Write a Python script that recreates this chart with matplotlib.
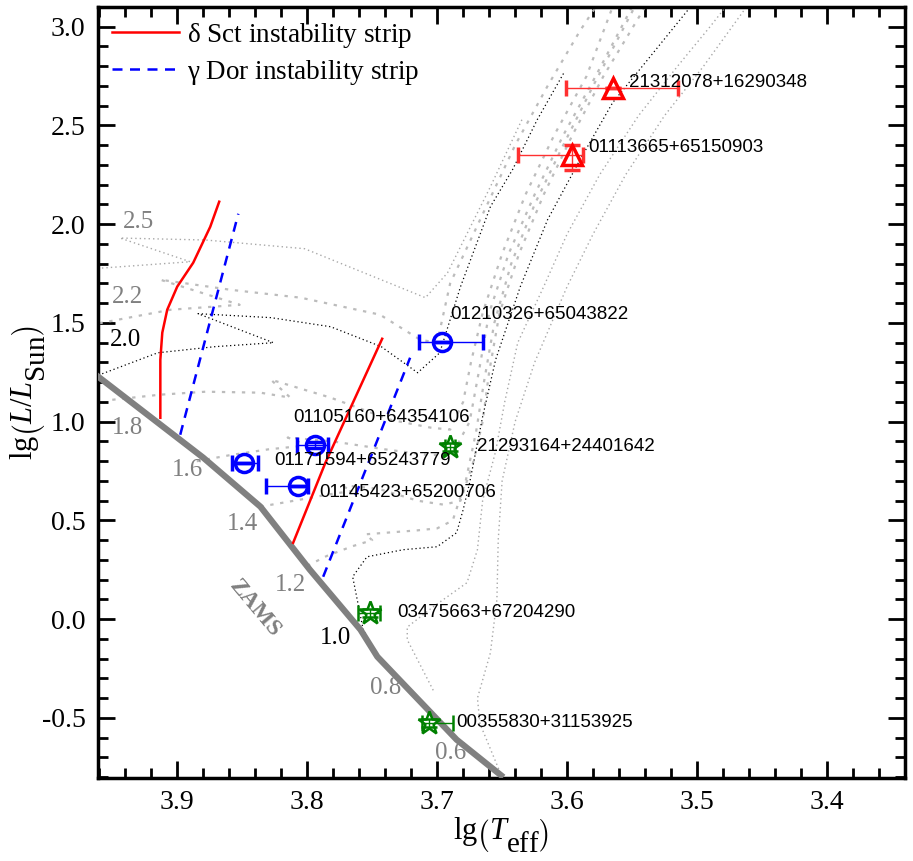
import matplotlib
matplotlib.use("Agg")
from matplotlib import pyplot as plt
from matplotlib.ticker import MultipleLocator
import matplotlib._mathtext as mathtext_internals

plt.rcParams['font.family'] = ['Liberation Serif', 'DejaVu Serif']
plt.rcParams['mathtext.fontset'] = 'custom'
plt.rcParams['mathtext.rm'] = 'Liberation Serif'
plt.rcParams['mathtext.it'] = 'Liberation Serif:italic'
plt.rcParams['axes.unicode_minus'] = False
# subscripts in the original axis titles are full size and sit low
mathtext_internals.SHRINK_FACTOR = 0.95
mathtext_internals.FontConstantsBase.sub1 = 0.9

# ZAMS
zams_x = [3.975, 3.880, 3.836, 3.798, 3.759, 3.746, 3.685, 3.649]
zams_y = [1.30, 0.818, 0.570, 0.251, -0.053, -0.19, -0.61, -0.80]

# instability strips
dsct_blue_x = [3.913, 3.913, 3.9115, 3.9077, 3.900, 3.8877, 3.8746, 3.8677]
dsct_blue_y = [1.020, 1.314, 1.451, 1.567, 1.684, 1.805, 1.987, 2.114]
dsct_red_x = [3.8108, 3.786, 3.7423]
dsct_red_y = [0.387, 0.792, 1.42]
gdor_blue_x = [3.8977, 3.853]
gdor_blue_y = [0.934, 2.053]
gdor_red_x = [3.7877, 3.7208]
gdor_red_y = [0.215, 1.324]

# evolutionary tracks (mass -> lgTeff, lgL)
trk25_x = [3.975, 3.890, 3.944, 3.878, 3.802, 3.709, 3.692, 3.659, 3.634]
trk25_y = [1.77, 1.81, 1.93, 1.92, 1.876, 1.628, 1.754, 2.19, 2.54]
trk22_x = [3.975, 3.905, 3.852, 3.913, 3.859, 3.805, 3.744, 3.713, 3.700,
           3.690, 3.665, 3.640, 3.615, 3.590, 3.578]
trk22_y = [1.48, 1.567, 1.592, 1.719, 1.668, 1.628, 1.542, 1.415, 1.40,
           1.70, 2.05, 2.40, 2.70, 2.98, 3.10]
trk20_x = [3.975, 3.915, 3.871, 3.826, 3.884, 3.828, 3.782, 3.743, 3.715,
           3.698, 3.682, 3.659, 3.642, 3.623, 3.602]
trk20_y = [1.20, 1.349, 1.380, 1.400, 1.547, 1.527, 1.481, 1.380, 1.248,
           1.349, 1.684, 2.089, 2.276, 2.529, 2.772]
trk18_x = [3.950, 3.913, 3.878, 3.836, 3.813, 3.828, 3.782, 3.736, 3.705,
           3.690, 3.680, 3.674, 3.665, 3.650, 3.632, 3.610, 3.585, 3.565]
trk18_y = [1.111, 1.137, 1.152, 1.147, 1.122, 1.213, 1.122, 1.010, 0.970,
           0.960, 1.10, 1.30, 1.55, 1.85, 2.15, 2.45, 2.75, 3.10]
trk16_x = [3.885, 3.860, 3.830, 3.800, 3.815, 3.780, 3.740, 3.705, 3.688,
           3.675, 3.668, 3.660, 3.645, 3.625, 3.603, 3.578, 3.550]
trk16_y = [0.80, 0.83, 0.86, 0.88, 0.92, 0.90, 0.86, 0.83, 0.84,
           1.00, 1.25, 1.55, 1.85, 2.15, 2.45, 2.75, 3.10]
trk14_x = [3.836, 3.810, 3.785, 3.765, 3.775, 3.745, 3.715, 3.695, 3.682,
           3.672, 3.665, 3.660, 3.652, 3.637, 3.618, 3.596, 3.572, 3.540]
trk14_y = [0.57, 0.60, 0.63, 0.65, 0.68, 0.66, 0.60, 0.58, 0.60,
           0.80, 1.00, 1.25, 1.55, 1.85, 2.15, 2.45, 2.75, 3.10]
trk12_x = [3.800, 3.785, 3.765, 3.750, 3.755, 3.735, 3.715, 3.700, 3.688,
           3.678, 3.670, 3.664, 3.656, 3.643, 3.625, 3.603, 3.580, 3.548]
trk12_y = [0.27, 0.32, 0.37, 0.40, 0.43, 0.44, 0.45, 0.46, 0.50,
           0.70, 0.95, 1.20, 1.50, 1.80, 2.10, 2.40, 2.70, 3.10]
trk10_x = [3.746, 3.757, 3.765, 3.754, 3.726, 3.700, 3.685, 3.680, 3.675,
           3.665, 3.655, 3.636, 3.615, 3.590, 3.565, 3.538, 3.505]
trk10_y = [-0.20, -0.05, 0.215, 0.316, 0.352, 0.367, 0.438, 0.554, 0.691,
           1.025, 1.314, 1.684, 2.023, 2.327, 2.615, 2.833, 3.101]
trk08_x = [3.703, 3.723, 3.723, 3.703, 3.677, 3.669, 3.665, 3.655, 3.648,
           3.638, 3.618, 3.600, 3.575, 3.545, 3.515, 3.490, 3.478]
trk08_y = [-0.36, -0.104, -0.04, 0.063, 0.185, 0.352, 0.60, 0.85, 1.10,
           1.40, 1.684, 1.95, 2.25, 2.55, 2.80, 3.00, 3.10]
trk06_x = [3.650, 3.667, 3.669, 3.659, 3.654, 3.653, 3.650, 3.640, 3.625,
           3.600, 3.580, 3.555, 3.525, 3.495, 3.462]
trk06_y = [-0.80, -0.53, -0.40, -0.17, 0.10, 0.40, 0.70, 1.00, 1.30,
           1.684, 1.95, 2.25, 2.55, 2.80, 3.10]

mass_labels = ['2.5', '2.2', '2.0', '1.8', '1.6', '1.4', '1.2', '1.0', '0.8', '0.6']
mass_lab_x = [3.930, 3.938, 3.940, 3.938, 3.892, 3.850, 3.813, 3.778, 3.740, 3.690]
mass_lab_y = [2.013, 1.633, 1.415, 0.970, 0.757, 0.484, 0.175, -0.094, -0.347, -0.676]
mass_lab_col = ['gray', 'gray', 'black', 'gray', 'gray', 'gray', 'gray', 'black', 'gray', 'gray']

# red giants (triangles)
rg_names = ['21312078+16290348', '01113665+65150903']
rg_x = [3.565, 3.596]
rg_y = [2.69, 2.35]
rg_xlo = [0.050, 0.008]
rg_xhi = [0.036, 0.042]
rg_ylo = [0.0, 0.074]
rg_yhi = [0.0, 0.05]

# blue circles
bc_names = ['01210326+65043822', '01105160+64354106', '01171594+65243779', '01145423+65200706']
bc_x = [3.696, 3.794, 3.849, 3.807]
bc_y = [1.405, 0.884, 0.792, 0.676]
bc_xlo = [0.031, 0.010, 0.011, 0.008]
bc_xhi = [0.018, 0.014, 0.009, 0.025]
bc_yerr = [0.0, 0.015, 0.0, 0.0]

# green stars
gs_names = ['21293164+24401642', '03475663+67204290', '00355830+31153925']
gs_x = [3.690, 3.752, 3.706]
gs_y = [0.873, 0.033, -0.524]
gs_xlo = [0.004, 0.008, 0.018]
gs_xhi = [0.004, 0.009, 0.006]
gs_yerr = [0.02, 0.02, 0.02]

# name label anchors
rg_lab_x = [3.552, 3.584]
rg_lab_y = [2.72, 2.387]
bc_lab_x = [3.690, 3.811, 3.825, 3.791]
bc_lab_y = [1.542, 1.020, 0.803, 0.641]
gs_lab_x = [3.669, 3.731, 3.685]
gs_lab_y = [0.873, 0.033, -0.524]

fig = plt.figure(figsize=(9.13, 8.61), dpi=100)
ax = fig.add_axes([0.1073, 0.0964, 0.8839, 0.8955])

fine = (0, (1, 2.2))
dash = (0, (1.5, 3))
ax.plot(trk25_x, trk25_y, color='#a8a8a8', lw=1.0, ls=fine)
ax.plot(trk22_x, trk22_y, color='#bcbcbc', lw=1.6, ls=dash)
ax.plot(trk20_x, trk20_y, color='black', lw=0.9, ls=fine)
ax.plot(trk18_x, trk18_y, color='#bcbcbc', lw=1.6, ls=dash)
ax.plot(trk16_x, trk16_y, color='#bcbcbc', lw=1.6, ls=dash)
ax.plot(trk14_x, trk14_y, color='#bcbcbc', lw=1.6, ls=dash)
ax.plot(trk12_x, trk12_y, color='#bcbcbc', lw=1.6, ls=dash)
ax.plot(trk10_x, trk10_y, color='black', lw=0.9, ls=fine)
ax.plot(trk08_x, trk08_y, color='#a8a8a8', lw=1.0, ls=fine)
ax.plot(trk06_x, trk06_y, color='#a8a8a8', lw=1.0, ls=fine)

ax.plot(zams_x, zams_y, color='#808080', lw=4.5, solid_capstyle='butt', zorder=3)
ax.text(3.840, 0.056, 'ZAMS', color='#808080', fontsize=17, fontweight='bold',
        rotation=-50, ha='center', va='center')

for lab, x, y, c in zip(mass_labels, mass_lab_x, mass_lab_y, mass_lab_col):
    ax.text(x, y, lab, color=c, fontsize=18, ha='center', va='center')

ax.plot(dsct_blue_x, dsct_blue_y, color='red', lw=1.8,
        label=r'$\mathregular{\delta}$ Sct instability strip', zorder=4)
ax.plot(dsct_red_x, dsct_red_y, color='red', lw=1.8, zorder=4)
ax.plot(gdor_blue_x, gdor_blue_y, color='blue', lw=1.8, ls=(0, (4, 3)),
        label=r'$\mathregular{\gamma}$ Dor instability strip', zorder=4)
ax.plot(gdor_red_x, gdor_red_y, color='blue', lw=1.8, ls=(0, (4, 3)), zorder=4)

ax.errorbar(rg_x, rg_y, xerr=[rg_xlo, rg_xhi], yerr=[rg_ylo, rg_yhi], fmt='^', ms=14,
            mfc='none', mec='red', mew=2.5, ecolor='#ff3030', elinewidth=1.0,
            capsize=6, capthick=1.0, zorder=5)
ax.errorbar(bc_x, bc_y, xerr=[bc_xlo, bc_xhi], yerr=bc_yerr, fmt='o', ms=13,
            mfc='none', mec='blue', mew=2.5, ecolor='blue', elinewidth=1.0,
            capsize=6, capthick=1.0, zorder=5)
ax.errorbar(gs_x, gs_y, xerr=[gs_xlo, gs_xhi], yerr=gs_yerr, fmt='*', ms=17,
            mfc='none', mec='green', mew=1.8, ecolor='green', elinewidth=1.0,
            capsize=6, capthick=1.0, zorder=5)

names = rg_names + bc_names + gs_names
lab_x = rg_lab_x + bc_lab_x + gs_lab_x
lab_y = rg_lab_y + bc_lab_y + gs_lab_y
for n, x, y in zip(names, lab_x, lab_y):
    ax.text(x, y, n, family='Liberation Sans', fontsize=13.5, ha='left', va='center', zorder=6)

ax.set_xlim(3.961, 3.340)
ax.set_ylim(-0.804, 3.10)
ax.xaxis.set_major_locator(MultipleLocator(0.1))
ax.xaxis.set_minor_locator(MultipleLocator(0.02))
ax.yaxis.set_major_locator(MultipleLocator(0.5))
ax.yaxis.set_minor_locator(MultipleLocator(0.1))
ax.tick_params(which='both', direction='in', top=True, right=True, width=2, labelsize=20)
ax.tick_params(which='major', length=12, pad=9)
ax.tick_params(which='minor', length=7)
for s in ax.spines.values():
    s.set_linewidth(2.5)

ax.set_xlabel(r'$\mathrm{lg}\left(T_{\mathrm{eff}}\right)$', fontsize=22, labelpad=0)
ax.set_ylabel(r'$\mathrm{lg}\left(L/L_{\mathrm{Sun}}\right)$', fontsize=22)
ax.yaxis.set_label_coords(-0.062, 0.5)

ax.legend(loc='upper left', frameon=False, fontsize=19.5, handlelength=2.5,
          handletextpad=0.3, labelspacing=0.3, borderaxespad=0.1)

plt.savefig('out.png', dpi=100)
